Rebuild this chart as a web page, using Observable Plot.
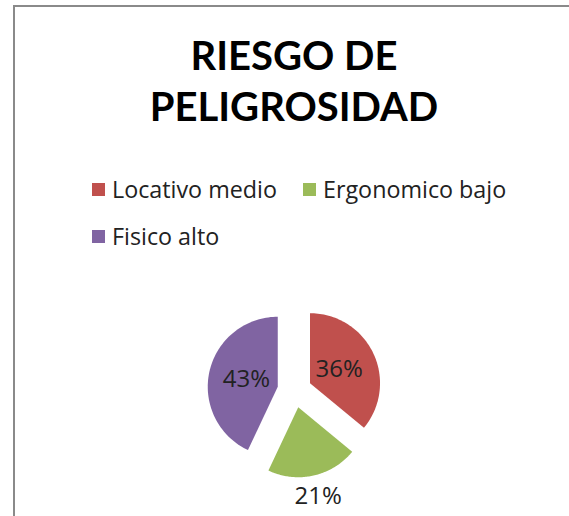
<!DOCTYPE html>
<html>
<head>
<meta charset="utf-8">
<script src="https://cdn.jsdelivr.net/npm/d3@7"></script>
<script src="https://cdn.jsdelivr.net/npm/@observablehq/plot@0.6"></script>
<style>
  html, body { margin: 0; padding: 0; background: #fff; }
  #frame { position: relative; width: 569px; height: 516px; overflow: hidden; background: #fff; font-family: "Open Sans", Lato, sans-serif; color: #222; }
  #border { position: absolute; left: 13px; top: 5px; width: 700px; height: 700px; border-left: 2px solid #8a8a8a; border-top: 2px solid #8a8a8a; box-sizing: border-box; }
  #title { position: absolute; left: 0; width: 588px; top: 30px; text-align: center; font-family: Lato, sans-serif; font-weight: bold; font-size: 40px; line-height: 51px; color: #000; }
  .leg { position: absolute; font-size: 23.3px; line-height: 26px; display: flex; align-items: center; color: #222; white-space: nowrap; }
  .sw { width: 13px; height: 13px; margin-right: 7px; }
  #plot { position: absolute; left: 0; top: 216px; }
</style>
</head>
<body>
<div id="frame">
  <div id="border"></div>
  <div id="title"></div>
  <div id="legend"></div>
  <div id="plot"></div>
</div>
<script>
const titleLines = ["RIESGO DE", "PELIGROSIDAD"];
const names = ["Locativo medio", "Ergonomico bajo", "Fisico alto"];
const values = [36, 21, 43];
const colors = ["#C0504D", "#9BBB59", "#8064A2"];
const labels = ["36%", "21%", "43%"];

// title
document.getElementById("title").innerHTML = titleLines.join("<br>");

// legend
const legendPos = [[92, 176], [303, 176], [92, 223]];
const legend = document.getElementById("legend");
names.forEach((n, i) => {
  const d = document.createElement("div");
  d.className = "leg";
  d.style.left = legendPos[i][0] + "px";
  d.style.top = legendPos[i][1] + "px";
  d.innerHTML = `<span class="sw" style="background:${colors[i]}"></span><span>${n}</span>`;
  legend.appendChild(d);
});

// pie geometry (unit radius, y up, clockwise from 12 o'clock)
const total = d3.sum(values);
const explode = 0.245;
let acc = 0;
const pts = [];
const labelData = [];
names.forEach((n, i) => {
  const a0 = acc / total * 2 * Math.PI;
  acc += values[i];
  const a1 = acc / total * 2 * Math.PI;
  const mid = (a0 + a1) / 2;
  const ox = explode * Math.sin(mid), oy = explode * Math.cos(mid);
  pts.push({name: n, x: ox, y: oy});
  const steps = 80;
  for (let k = 0; k <= steps; k++) {
    const t = a0 + (a1 - a0) * k / steps;
    pts.push({name: n, x: ox + Math.sin(t), y: oy + Math.cos(t)});
  }
  pts.push({name: n, x: ox, y: oy});
  const r = values[i] < 25 ? 1.3 : 0.46;
  labelData.push({text: labels[i], x: ox + r * Math.sin(mid), y: oy + r * Math.cos(mid)});
});

const cx = 294, cy = 174, R = 70;
const chart = Plot.plot({
  width: 569,
  height: 300,
  margin: 0,
  style: {fontFamily: "'Open Sans', Lato, sans-serif", background: "transparent", overflow: "visible"},
  x: {domain: [-1, 1], range: [cx - R, cx + R], axis: null},
  y: {domain: [-1, 1], range: [cy + R, cy - R], axis: null},
  color: {domain: names, range: colors},
  marks: [
    Plot.line(pts, {x: "x", y: "y", z: "name", fill: "name", stroke: "none", curve: "linear"}),
    Plot.text(labelData, {x: "x", y: "y", text: "text", fontSize: 24, fill: "#222"})
  ]
});
document.getElementById("plot").appendChild(chart);
</script>
</body>
</html>
